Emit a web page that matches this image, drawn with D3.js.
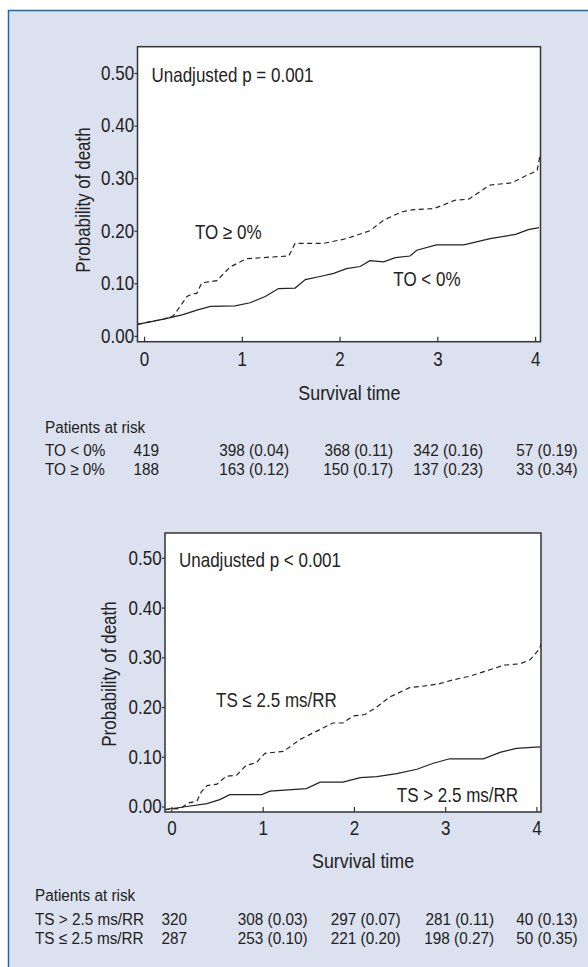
<!DOCTYPE html>
<html>
<title>Probability of death by TO and TS</title>
<style>
  body {
    margin: 0px;
    background: white;
  }
  text {
    fill: #222;
    font-family: 'Liberation Sans', Arial, sans-serif;
  }
  .curve {
    fill: none;
    stroke: #222;
    stroke-width: 1.2;
  }
  .dashed {
    stroke-dasharray: 5, 3.5;
  }
</style>
<script src="https://d3js.org/d3.v7.min.js"></script>
<body>
<svg></svg>
<script>

// tick values
const timeTicks = [0, 1, 2, 3, 4];
const probTicks = [0, 0.1, 0.2, 0.3, 0.4, 0.5];

// top panel: TO (as [time, probability])
const toBelowCurve = [[-0.067,0.022],[0.2,0.032],[0.39,0.040],[0.54,0.049],[0.68,0.056],[0.93,0.057],
  [1.085,0.063],[1.24,0.075],[1.375,0.090],[1.545,0.091],[1.65,0.107],[1.80,0.113],[1.94,0.119],
  [2.07,0.128],[2.21,0.132],[2.31,0.143],[2.45,0.141],[2.57,0.149],[2.72,0.152],[2.79,0.163],
  [2.99,0.173],[3.27,0.173],[3.54,0.185],[3.80,0.193],[3.93,0.202],[4.04,0.206]];
const toAboveCurve = [[-0.067,0.022],[0.2,0.032],[0.30,0.038],[0.44,0.075],[0.49,0.080],[0.54,0.081],
  [0.59,0.101],[0.745,0.105],[0.88,0.131],[1.05,0.147],[1.48,0.152],[1.545,0.176],[1.835,0.176],
  [2.07,0.185],[2.31,0.200],[2.45,0.220],[2.635,0.236],[2.755,0.240],[2.96,0.242],[3.06,0.249],
  [3.18,0.258],[3.32,0.260],[3.54,0.287],[3.76,0.291],[3.91,0.305],[4.02,0.314],[4.05,0.343]];

// bottom panel: TS
const tsAboveCurve = [[-0.07,-0.006],[0.17,0.0],[0.39,0.006],[0.53,0.014],[0.64,0.024],[0.99,0.024],
  [1.08,0.031],[1.48,0.036],[1.63,0.049],[1.88,0.049],[2.07,0.058],[2.25,0.060],[2.47,0.066],
  [2.69,0.075],[2.87,0.087],[3.05,0.096],[3.42,0.096],[3.60,0.109],[3.78,0.117],[4.04,0.120]];
const tsBelowCurve = [[-0.07,-0.006],[0.10,-0.004],[0.18,0.007],[0.28,0.011],[0.33,0.030],[0.39,0.042],
  [0.50,0.045],[0.60,0.061],[0.715,0.063],[0.82,0.083],[0.93,0.088],[1.025,0.107],[1.23,0.111],
  [1.41,0.135],[1.63,0.155],[1.77,0.168],[1.88,0.168],[1.99,0.182],[2.12,0.185],[2.25,0.200],
  [2.39,0.220],[2.61,0.239],[2.80,0.243],[2.94,0.247],[3.09,0.255],[3.27,0.262],[3.49,0.275],
  [3.64,0.284],[3.82,0.287],[3.93,0.295],[4.03,0.316],[4.06,0.331]];

// patients at risk tables
const toRiskLabels = ["TO < 0%", "TO \u2265 0%"];
const toRiskRows = [
  ["419", "398 (0.04)", "368 (0.11)", "342 (0.16)", "57 (0.19)"],
  ["188", "163 (0.12)", "150 (0.17)", "137 (0.23)", "33 (0.34)"]];
const tsRiskLabels = ["TS > 2.5 ms/RR", "TS \u2264 2.5 ms/RR"];
const tsRiskRows = [
  ["320", "308 (0.03)", "297 (0.07)", "281 (0.11)", "40 (0.13)"],
  ["287", "253 (0.10)", "221 (0.20)", "198 (0.27)", "50 (0.35)"]];

const width = 588, height = 967;
// no narrow font installed, so squeeze Liberation Sans sideways
const narrow = 0.85;
const tableNarrow = 0.9;

const svg = d3.select("svg")
    .attr("width", width)
    .attr("height", height);

// light blue box with blue border (right and bottom edges fall off the page)
svg.append("rect")
    .attr("x", 8.5)
    .attr("y", 10.5)
    .attr("width", width + 20)
    .attr("height", height + 20)
    .style("fill", "#dbe1ee")
    .style("stroke", "#1f66b3")
    .style("stroke-width", 1.5);

drawPanel({
  id: "to",
  left: 137.5, right: 540.5, top: 46.7, bottom: 341.7,
  xDomain: [-0.067, 4.055],
  solid: toBelowCurve, dashed: toAboveCurve,
  pText: "Unadjusted p = 0.001",
  solidLabel: {text: toRiskLabels[0], t: 2.55, p: 0.095},
  dashedLabel: {text: toRiskLabels[1], t: 0.52, p: 0.184},
  titleX: 82.7, titleY: 200, survY: 400, tickPad: 10
});

drawPanel({
  id: "ts",
  left: 165, right: 541, top: 533, bottom: 812,
  xDomain: [-0.07, 4.05],
  solid: tsAboveCurve, dashed: tsBelowCurve,
  pText: "Unadjusted p < 0.001",
  solidLabel: {text: tsRiskLabels[0], t: 2.47, p: 0.009},
  dashedLabel: {text: tsRiskLabels[1], t: 0.49, p: 0.2},
  titleX: 109, titleY: 674, survY: 868, tickPad: 9
});

drawTable(toRiskLabels, toRiskRows, 45, [159, 289, 393, 483, 577.5], [433, 456, 475]);
drawTable(tsRiskLabels, tsRiskRows, 35, [187, 307.5, 400.5, 494, 577.5], [901, 925, 944]);

function label(parent, x, y, txt, size, anchor, squeeze) {
  return parent.append("text")
      .attr("transform", "translate(" + x + "," + y + ") scale(" + (squeeze || narrow) + ",1)")
      .attr("text-anchor", anchor || "start")
      .style("font-size", size + "px")
      .text(txt);
}

function drawPanel(cfg) {
  const x = d3.scaleLinear()
      .domain(cfg.xDomain)
      .range([cfg.left, cfg.right]);

  const y = d3.scaleLinear()
      .domain([-0.011, 0.55])
      .range([cfg.bottom, cfg.top]);

  const g = svg.append("g").attr("class", cfg.id);

  g.append("clipPath")
      .attr("id", "clip-" + cfg.id)
    .append("rect")
      .attr("x", cfg.left)
      .attr("y", cfg.top)
      .attr("width", cfg.right - cfg.left)
      .attr("height", cfg.bottom - cfg.top);

  g.append("rect")
      .attr("x", cfg.left)
      .attr("y", cfg.top)
      .attr("width", cfg.right - cfg.left)
      .attr("height", cfg.bottom - cfg.top)
      .style("fill", "white");

  const line = d3.line()
      .x(function(d) {return x(d[0])})
      .y(function(d) {return y(d[1])});

  const curves = g.append("g").attr("clip-path", "url(#clip-" + cfg.id + ")");
  curves.append("path")
      .datum(cfg.solid)
      .attr("class", "curve")
      .attr("d", line);
  curves.append("path")
      .datum(cfg.dashed)
      .attr("class", "curve dashed")
      .attr("d", line);

  // axes: y ticks outward, x ticks inward
  const yAxis = g.append("g")
      .attr("transform", "translate(" + cfg.left + ",0)")
      .call(d3.axisLeft(y)
        .tickValues(probTicks)
        .tickFormat(d3.format(".2f"))
        .tickSizeInner(3)
        .tickSizeOuter(0)
        .tickPadding(0));

  const xAxis = g.append("g")
      .attr("transform", "translate(0," + cfg.bottom + ")")
      .call(d3.axisBottom(x)
        .tickValues(timeTicks)
        .tickFormat(d3.format("d"))
        .tickSizeInner(-5)
        .tickSizeOuter(0)
        .tickPadding(cfg.tickPad));

  for (const axis of [xAxis, yAxis]) {
    axis.attr("font-family", null).attr("font-size", null);
    axis.select(".domain").remove();
    axis.selectAll("line").style("stroke", "#333").style("stroke-width", 1.2);
    axis.selectAll("text")
        .style("font-size", "20px")
        .attr("transform", "scale(" + narrow + ",1)");
  }
  yAxis.selectAll("text").attr("x", -4);

  // frame
  g.append("rect")
      .attr("x", cfg.left)
      .attr("y", cfg.top)
      .attr("width", cfg.right - cfg.left)
      .attr("height", cfg.bottom - cfg.top)
      .style("fill", "none")
      .style("stroke", "#333")
      .style("stroke-width", 1.5);

  label(g, cfg.left + 14, y(0.5) + 9, cfg.pText, 20);

  for (const lab of [cfg.solidLabel, cfg.dashedLabel]) {
    label(g, x(lab.t), y(lab.p), lab.text, 20);
  }

  g.append("text")
      .attr("transform", "translate(" + cfg.titleX + "," + cfg.titleY + ") rotate(-90) scale(" + narrow + ",1)")
      .attr("dy", "0.35em")
      .attr("text-anchor", "middle")
      .style("font-size", "20px")
      .text("Probability of death");

  label(g, x(2.1), cfg.survY, "Survival time", 21, "middle");
}

function drawTable(labels, rows, labelX, colRight, rowY) {
  const t = svg.append("g");

  label(t, labelX, rowY[0], "Patients at risk", 17, "start", tableNarrow);

  rows.forEach(function(row, i) {
    label(t, labelX, rowY[i + 1], labels[i], 17, "start", tableNarrow);
    row.forEach(function(cell, j) {
      label(t, colRight[j], rowY[i + 1], cell, 17, "end", tableNarrow);
    });
  });
}
</script>
</body>
</html>
